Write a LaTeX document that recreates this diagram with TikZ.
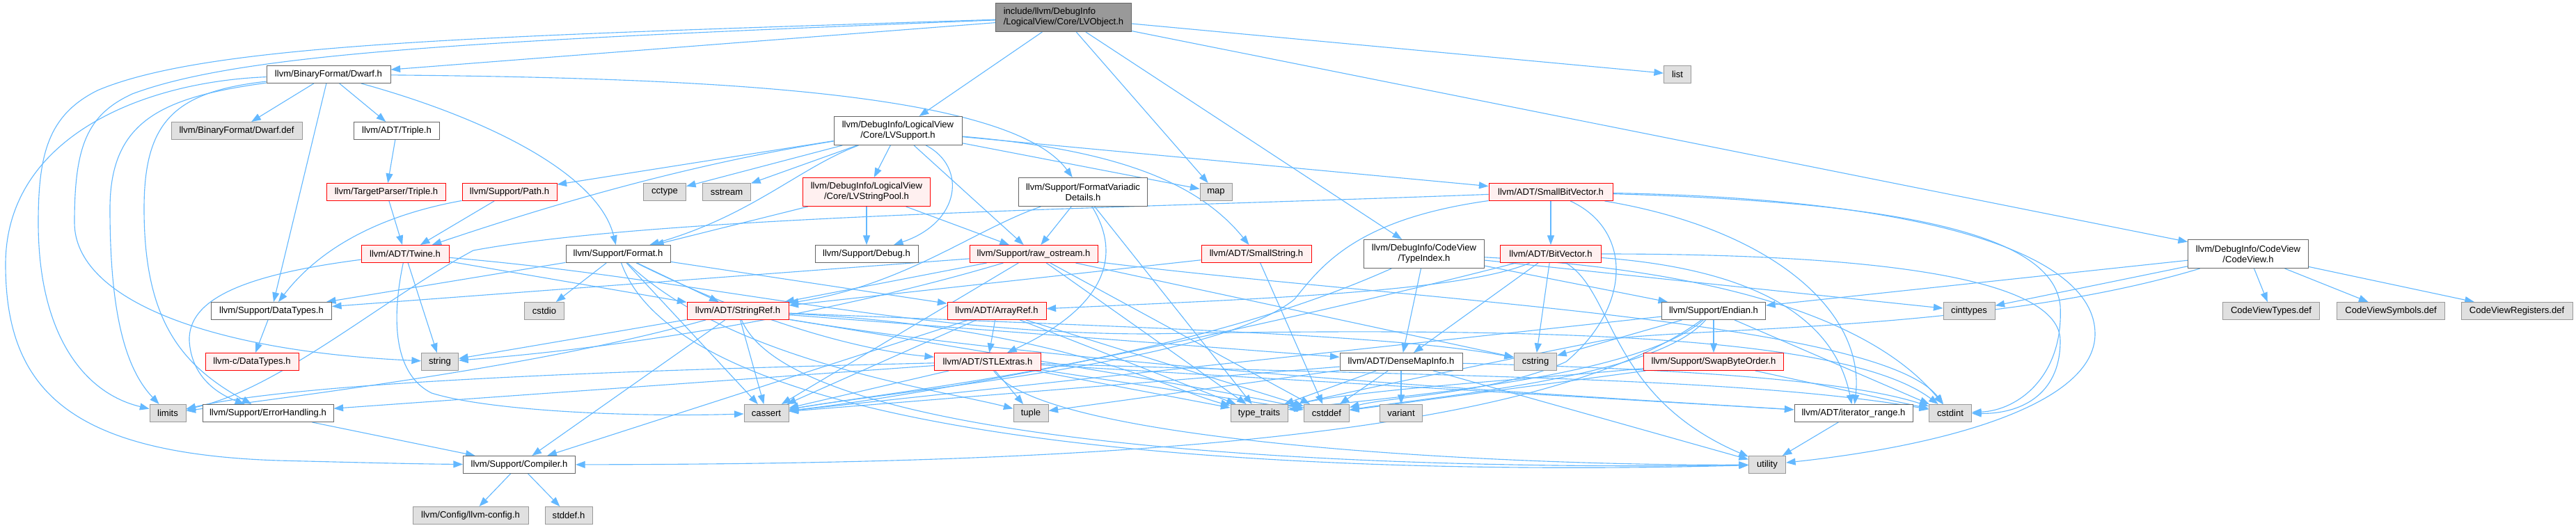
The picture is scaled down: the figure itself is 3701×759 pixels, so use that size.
\documentclass[tikz,border=0pt]{standalone}
\usepackage{fontspec}
\setmainfont{Liberation Sans}
\usetikzlibrary{arrows.meta}
\definecolor{edgec}{HTML}{63B8FF}
\definecolor{nodeb}{HTML}{666666}
\definecolor{grayf}{HTML}{E0E0E0}
\definecolor{grayb}{HTML}{999999}
\definecolor{redf}{HTML}{FFF0F0}
\definecolor{redb}{HTML}{FF0000}
\definecolor{topf}{HTML}{999999}
\newcommand\fsz{\fontsize{9.3pt}{10.7pt}\selectfont}
\pgfdeclarelayer{edges}
\pgfsetlayers{edges,main}
\tikzset{
 bx/.style={draw=nodeb, fill=white, line width=0.25mm, inner sep=0pt, minimum height=6.25mm, font=\fsz, align=center, text=black},
 gx/.style={bx, draw=grayb, fill=grayf},
 rx/.style={bx, draw=redb, fill=redf},
 tp/.style={bx, fill=topf, align=left},
 tall/.style={minimum height=10.25mm},
 bw/.style={minimum width=#1*0.25mm},
 ed/.style={draw=edgec, line width=0.28mm, -{Triangle[length=3.4mm,width=2.5mm]}},
}
\begin{document}
\begin{tikzpicture}[x=0.25mm, y=-0.25mm]
\useasboundingbox (0,0) rectangle (3701,759);
% nodes
\node[tp, tall, bw=195] (top) at (1528,25) {include/llvm/DebugInfo\\/LogicalView/Core/LVObject.h};
\node[bx, bw=178] (dwarf) at (472,107) {llvm/BinaryFormat/Dwarf.h};
\node[bx, tall, bw=184] (lvsupport) at (1290,188) {llvm/DebugInfo/LogicalView\\/Core/LVSupport.h};
\node[gx, bw=39] (list) at (2410,107) {list};
\node[gx, bw=188] (dwarfdef) at (340,188) {llvm/BinaryFormat/Dwarf.def};
\node[bx, bw=123] (triple) at (570,188) {llvm/ADT/Triple.h};
\node[rx, bw=171] (tptriple) at (555,276) {llvm/TargetParser/Triple.h};
\node[rx, bw=136] (pathh) at (732,276) {llvm/Support/Path.h};
\node[gx, bw=61] (cctype) at (955,276) {cctype};
\node[gx, bw=69] (sstream) at (1044,276) {sstream};
\node[rx, tall, bw=183] (lvstringpool) at (1245,276) {llvm/DebugInfo/LogicalView\\/Core/LVStringPool.h};
\node[bx, tall, bw=185] (fvd) at (1556,276) {llvm/Support/FormatVariadic\\Details.h};
\node[gx, bw=46] (map) at (1747,276) {map};
\node[rx, bw=178] (smallbitvector) at (2228,276) {llvm/ADT/SmallBitVector.h};
\node[rx, bw=126] (twine) at (582,365) {llvm/ADT/Twine.h};
\node[bx, bw=150] (format) at (888,365) {llvm/Support/Format.h};
\node[bx, bw=148] (debug) at (1245,365) {llvm/Support/Debug.h};
\node[rx, bw=184] (rawostream) at (1485,365) {llvm/Support/raw\_ostream.h};
\node[rx, bw=158] (smallstring) at (1805,365) {llvm/ADT/SmallString.h};
\node[bx, tall, bw=173] (typeindex) at (2046,365) {llvm/DebugInfo/CodeView\\/TypeIndex.h};
\node[rx, bw=145] (bitvector) at (2228,365) {llvm/ADT/BitVector.h};
\node[bx, tall, bw=173] (codeview) at (3230,365) {llvm/DebugInfo/CodeView\\/CodeView.h};
\node[bx, bw=173] (datatypes) at (390,447) {llvm/Support/DataTypes.h};
\node[gx, bw=57] (cstdio) at (782,447) {cstdio};
\node[rx, bw=146] (stringref) at (1060,447) {llvm/ADT/StringRef.h};
\node[rx, bw=142] (arrayref) at (1432,447) {llvm/ADT/ArrayRef.h};
\node[bx, bw=149] (endian) at (2462,447) {llvm/Support/Endian.h};
\node[gx, bw=74] (cinttypes) at (2829,447) {cinttypes};
\node[gx, bw=139] (cvtypes) at (3263,447) {CodeViewTypes.def};
\node[gx, bw=155] (cvsymbols) at (3435,447) {CodeViewSymbols.def};
\node[gx, bw=160] (cvregisters) at (3616,447) {CodeViewRegisters.def};
\node[rx, bw=134] (cdatatypes) at (362,520) {llvm-c/DataTypes.h};
\node[gx, bw=53] (string) at (632,520) {string};
\node[rx, bw=153] (stlextras) at (1419,520) {llvm/ADT/STLExtras.h};
\node[bx, bw=176] (densemapinfo) at (2013,520) {llvm/ADT/DenseMapInfo.h};
\node[gx, bw=61] (cstring) at (2206,520) {cstring};
\node[rx, bw=201] (swapbyteorder) at (2462,520) {llvm/Support/SwapByteOrder.h};
\node[gx, bw=52] (limits) at (241,594) {limits};
\node[bx, bw=188] (errorhandling) at (385,594) {llvm/Support/ErrorHandling.h};
\node[gx, bw=64] (cassert) at (1101,594) {cassert};
\node[gx, bw=50] (tuple) at (1481,594) {tuple};
\node[gx, bw=82] (typetraits) at (1809,594) {type\_traits};
\node[gx, bw=65] (cstddef) at (1906,594) {cstddef};
\node[gx, bw=61] (variant) at (2013,594) {variant};
\node[bx, bw=170] (iteratorrange) at (2663,594) {llvm/ADT/iterator\_range.h};
\node[gx, bw=61] (cstdint) at (2802,594) {cstdint};
\node[bx, bw=161] (compiler) at (746,668) {llvm/Support/Compiler.h};
\node[gx, bw=53] (utility) at (2539,668) {utility};
\node[gx, bw=166] (llvmconfig) at (676,741) {llvm/Config/llvm-config.h};
\node[gx, bw=68] (stddef) at (817,741) {stddef.h};
% edges
\begin{pgfonlayer}{edges}
% top
\draw[ed] (top) -- (dwarf);
\draw[ed] (top) -- (codeview);
\draw[ed] (top) -- (typeindex);
\draw[ed] (top) -- (lvsupport);
\draw[ed] (top) -- (list);
\draw[ed] (top) -- (map);
\draw[ed] (top) .. controls (700,52) and (300,62) .. (140,130) .. controls (70,165) and (55,220) .. (55,320) .. controls (55,480) and (120,565) .. (limits);
\draw[ed] (top) .. controls (700,58) and (350,75) .. (190,135) .. controls (125,165) and (107,210) .. (107,320) .. controls (107,430) and (300,505) .. (string);
% dwarf
\draw[ed] (dwarf) .. controls (200,118) and (8,200) .. (8,380) .. controls (8,560) and (100,652) .. (400,662) .. controls (520,665) and (600,667) .. (compiler);
\draw[ed] (dwarf) -- (datatypes);
\draw[ed] (dwarf) .. controls (250,132) and (207,175) .. (207,300) .. controls (207,460) and (260,525) .. (errorhandling);
\draw[ed] (dwarf) .. controls (230,140) and (158,175) .. (158,300) .. controls (158,450) and (180,530) .. (limits);
\draw[ed] (dwarf) .. controls (700,170) and (860,250) .. (format);
\draw[ed] (dwarf) .. controls (1000,112) and (1450,130) .. (fvd);
\draw[ed] (dwarf) -- (triple);
\draw[ed] (dwarf) -- (dwarfdef);
% lvsupport
\draw[ed] (lvsupport) -- (smallbitvector);
\draw[ed] (lvsupport) .. controls (1600,215) and (1720,260) .. (smallstring);
\draw[ed] (lvsupport) .. controls (1000,235) and (820,285) .. (twine);
\draw[ed] (lvsupport) -- (lvstringpool);
\draw[ed] (lvsupport) .. controls (1390,240) and (1380,320) .. (debug);
\draw[ed] (lvsupport) .. controls (1150,240) and (1080,310) .. (format);
\draw[ed] (lvsupport) -- (pathh);
\draw[ed] (lvsupport) -- (rawostream);
\draw[ed] (lvsupport) -- (cctype);
\draw[ed] (lvsupport) -- (map);
\draw[ed] (lvsupport) -- (sstream);
% triple, path
\draw[ed] (triple) -- (tptriple);
\draw[ed] (tptriple) -- (twine);
\draw[ed] (pathh) -- (twine);
\draw[ed] (pathh) .. controls (600,300) and (480,330) .. (datatypes);
% lvstringpool
\draw[ed] (lvstringpool) -- (debug);
\draw[ed] (lvstringpool) -- (format);
\draw[ed] (lvstringpool) -- (rawostream);
% fvd
\draw[ed] (fvd) .. controls (1620,380) and (1570,450) .. (stlextras);
\draw[ed] (fvd) .. controls (1400,330) and (1300,410) .. (stringref);
\draw[ed] (fvd) -- (rawostream);
\draw[ed] (fvd) -- (typetraits);
% smallbitvector
\draw[ed] (smallbitvector) -- (bitvector);
\draw[ed] (smallbitvector) .. controls (2550,330) and (2680,450) .. (iteratorrange);
\draw[ed] (smallbitvector) .. controls (1950,315) and (1900,380) .. (1860,430) .. controls (1750,520) and (1300,560) .. (cassert);
\draw[ed] (smallbitvector) .. controls (2345,330) and (2345,440) .. (2250,520) .. controls (2150,565) and (2000,570) .. (cstddef);
\draw[ed] (smallbitvector) .. controls (2700,290) and (2950,330) .. (2960,440) .. controls (2965,540) and (2900,590) .. (cstdint);
\draw[ed] (smallbitvector) .. controls (2750,285) and (3010,360) .. (3010,480) .. controls (3010,580) and (2800,640) .. (utility);
\draw[ed] (smallbitvector) .. controls (1600,300) and (950,310) .. (680,360) .. controls (550,430) and (400,560) .. (limits);
% twine
\draw[ed] (twine) -- (stringref);
\draw[ed] (twine) .. controls (350,395) and (270,430) .. (272,490) .. controls (275,540) and (310,565) .. (errorhandling);
\draw[ed] (twine) .. controls (560,470) and (570,540) .. (620,565) .. controls (700,590) and (900,600) .. (cassert);
\draw[ed] (twine) .. controls (1000,400) and (1300,480) .. (1650,480) .. controls (2200,470) and (2650,480) .. (cstdint);
\draw[ed] (twine) -- (string);
% format
\draw[ed] (format) -- (arrayref);
\draw[ed] (format) .. controls (1100,470) and (1250,505) .. (stlextras);
\draw[ed] (format) -- (stringref);
\draw[ed] (format) -- (datatypes);
\draw[ed] (format) -- (cassert);
\draw[ed] (format) -- (cstdio);
\draw[ed] (format) .. controls (1050,520) and (1350,560) .. (tuple);
\draw[ed] (format) .. controls (1000,680) and (2100,680) .. (utility);
% raw_ostream
\draw[ed] (rawostream) -- (stringref);
\draw[ed] (rawostream) -- (datatypes);
\draw[ed] (rawostream) -- (cassert);
\draw[ed] (rawostream) -- (cstddef);
\draw[ed] (rawostream) .. controls (2000,430) and (2700,460) .. (cstdint);
\draw[ed] (rawostream) -- (cstring);
\draw[ed] (rawostream) .. controls (1200,450) and (900,500) .. (string);
\draw[ed] (rawostream) -- (typetraits);
% smallstring
\draw[ed] (smallstring) -- (stringref);
\draw[ed] (smallstring) -- (cstddef);
% typeindex
\draw[ed] (typeindex) -- (densemapinfo);
\draw[ed] (typeindex) -- (endian);
\draw[ed] (typeindex) .. controls (1700,520) and (1300,560) .. (cassert);
\draw[ed] (typeindex) -- (cinttypes);
\draw[ed] (typeindex) .. controls (2500,390) and (2700,470) .. (cstdint);
% bitvector
\draw[ed] (bitvector) .. controls (2100,420) and (1800,430) .. (arrayref);
\draw[ed] (bitvector) -- (densemapinfo);
\draw[ed] (bitvector) .. controls (2560,390) and (2640,480) .. (iteratorrange);
\draw[ed] (bitvector) .. controls (1900,450) and (1400,560) .. (cassert);
\draw[ed] (bitvector) .. controls (2700,365) and (2960,400) .. (2960,490) .. controls (2960,570) and (2900,595) .. (cstdint);
\draw[ed] (bitvector) -- (cstring);
\draw[ed] (bitvector) .. controls (2320,420) and (2310,570) .. (utility);
% codeview
\draw[ed] (codeview) -- (cinttypes);
\draw[ed] (codeview) .. controls (2850,480) and (2400,470) .. (2300,490) .. controls (2150,520) and (1950,560) .. (typetraits);
\draw[ed] (codeview) -- (endian);
\draw[ed] (codeview) -- (cvtypes);
\draw[ed] (codeview) -- (cvsymbols);
\draw[ed] (codeview) -- (cvregisters);
% datatypes
\draw[ed] (datatypes) -- (cdatatypes);
% stringref
\draw[ed] (stringref) -- (densemapinfo);
\draw[ed] (stringref) .. controls (1500,520) and (2100,560) .. (iteratorrange);
\draw[ed] (stringref) -- (compiler);
\draw[ed] (stringref) -- (cassert);
\draw[ed] (stringref) .. controls (1500,520) and (1750,560) .. (cstddef);
\draw[ed] (stringref) .. controls (1600,470) and (2000,480) .. (cstring);
\draw[ed] (stringref) .. controls (800,520) and (500,560) .. (limits);
\draw[ed] (stringref) -- (string);
\draw[ed] (stringref) .. controls (1520,470) and (1680,560) .. (typetraits);
\draw[ed] (stringref) .. controls (1150,660) and (2100,675) .. (utility);
% arrayref
\draw[ed] (arrayref) -- (stlextras);
\draw[ed] (arrayref) -- (compiler);
\draw[ed] (arrayref) -- (cassert);
\draw[ed] (arrayref) -- (cstddef);
\draw[ed] (arrayref) -- (typetraits);
% endian
\draw[ed] (endian) .. controls (2200,640) and (1500,667) .. (compiler);
\draw[ed] (endian) -- (swapbyteorder);
\draw[ed] (endian) -- (cassert);
\draw[ed] (endian) .. controls (2380,540) and (2100,565) .. (cstddef);
\draw[ed] (endian) -- (cstdint);
\draw[ed] (endian) -- (cstring);
\draw[ed] (endian) .. controls (2350,545) and (2000,570) .. (typetraits);
% stlextras
\draw[ed] (stlextras) -- (iteratorrange);
\draw[ed] (stlextras) -- (errorhandling);
\draw[ed] (stlextras) -- (cassert);
\draw[ed] (stlextras) -- (cstddef);
\draw[ed] (stlextras) .. controls (2000,540) and (2500,540) .. (cstdint);
\draw[ed] (stlextras) .. controls (1000,530) and (450,545) .. (limits);
\draw[ed] (stlextras) -- (tuple);
\draw[ed] (stlextras) -- (typetraits);
\draw[ed] (stlextras) .. controls (1500,640) and (2200,670) .. (utility);
% densemapinfo
\draw[ed] (densemapinfo) -- (cassert);
\draw[ed] (densemapinfo) -- (cstddef);
\draw[ed] (densemapinfo) .. controls (2400,530) and (2650,545) .. (cstdint);
\draw[ed] (densemapinfo) -- (tuple);
\draw[ed] (densemapinfo) -- (typetraits);
\draw[ed] (densemapinfo) -- (utility);
\draw[ed] (densemapinfo) -- (variant);
% swapbyteorder
\draw[ed] (swapbyteorder) -- (cstddef);
\draw[ed] (swapbyteorder) -- (cstdint);
\draw[ed] (swapbyteorder) .. controls (2200,545) and (1950,560) .. (typetraits);
% rest
\draw[ed] (iteratorrange) -- (utility);
\draw[ed] (errorhandling) -- (compiler);
\draw[ed] (compiler) -- (llvmconfig);
\draw[ed] (compiler) -- (stddef);
\end{pgfonlayer}
\end{tikzpicture}
\end{document}
